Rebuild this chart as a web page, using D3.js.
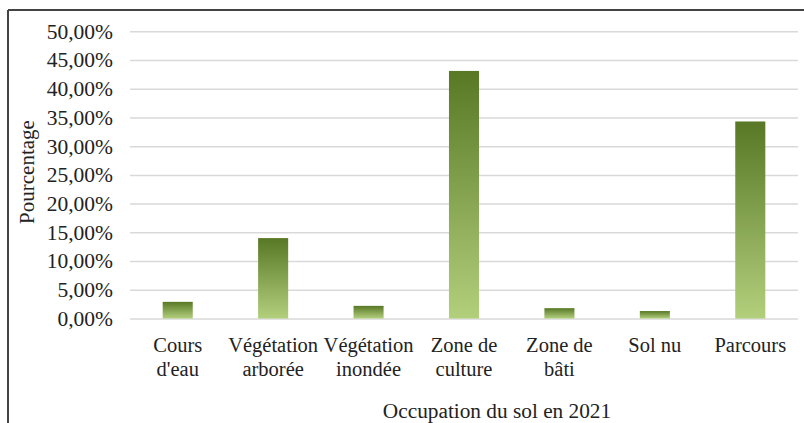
<!DOCTYPE html>
<html><head><meta charset="utf-8">
<script src="https://cdn.jsdelivr.net/npm/d3@7"></script>
<style>body{margin:0;background:#fff}svg{display:block}</style>
</head><body>
<script>
const categories = [["Cours","d'eau"],["Végétation","arborée"],["Végétation","inondée"],["Zone de","culture"],["Zone de","bâti"],["Sol nu"],["Parcours"]];
const values = [2.9, 14.0, 2.2, 43.1, 1.8, 1.3, 34.3];
const yTicks = [0,5,10,15,20,25,30,35,40,45,50];
const yTitle = "Pourcentage";
const xTitle = "Occupation du sol en 2021";

(function(){
const W = 804, H = 423;
const svg = d3.select("body").append("svg").attr("width", W).attr("height", H);
const font = "'Liberation Serif','Times New Roman',serif";

const defs = svg.append("defs");
const g1 = defs.append("linearGradient").attr("id","barGrad").attr("x1",0).attr("y1",0).attr("x2",0).attr("y2",1);
g1.append("stop").attr("offset","0%").attr("stop-color","#587826");
g1.append("stop").attr("offset","100%").attr("stop-color","#b2cf7c");

svg.append("line").attr("x1",8).attr("x2",W).attr("y1",10).attr("y2",10).attr("stroke","#444").attr("stroke-width",2);
svg.append("line").attr("x1",8).attr("x2",8).attr("y1",10).attr("y2",H).attr("stroke","#444").attr("stroke-width",2);

const mLeft = 130, mRight = 798, mTop = 31.3, mBottom = 318.5;
const x = d3.scaleBand().domain(d3.range(categories.length)).range([mLeft, mRight]).paddingInner(0.685).paddingOuter(0.3425);
const y = d3.scaleLinear().domain([0,50]).range([mBottom, mTop]);

const yAxis = d3.axisLeft(y).tickValues(yTicks).tickSize(-(mRight-mLeft)).tickPadding(17)
  .tickFormat(d => d.toFixed(2).replace(".", ",") + "%");
const ga = svg.append("g").attr("transform", `translate(${mLeft},0)`).call(yAxis);
ga.select(".domain").remove();
ga.selectAll(".tick line").attr("stroke","#d9d9d9").attr("stroke-width",1.5);
ga.selectAll(".tick text").attr("font-family",font).attr("font-size",21.5).attr("fill","#222");

svg.append("g").selectAll("rect").data(values).join("rect")
  .attr("x",(d,i)=>x(i)).attr("width",x.bandwidth())
  .attr("y",d=>y(d)).attr("height",d=>y(0)-y(d))
  .attr("fill","url(#barGrad)");

const xl = svg.append("g");
categories.forEach((lines,i)=>{
  const cx = x(i)+x.bandwidth()/2;
  const t = xl.append("text").attr("x", cx).attr("y", 352)
    .attr("text-anchor","middle").attr("font-family",font).attr("font-size",20.5).attr("fill","#222");
  lines.forEach((l,j)=>t.append("tspan").attr("x", cx).attr("dy", j===0?0:24).text(l));
});

svg.append("text").attr("x",497).attr("y",418).attr("text-anchor","middle")
  .attr("font-family",font).attr("font-size",21.3).attr("fill","#222").text(xTitle);
svg.append("text").attr("transform","translate(34,172) rotate(-90)").attr("text-anchor","middle")
  .attr("font-family",font).attr("font-size",21).attr("fill","#222").text(yTitle);
})();
</script>
</body></html>
